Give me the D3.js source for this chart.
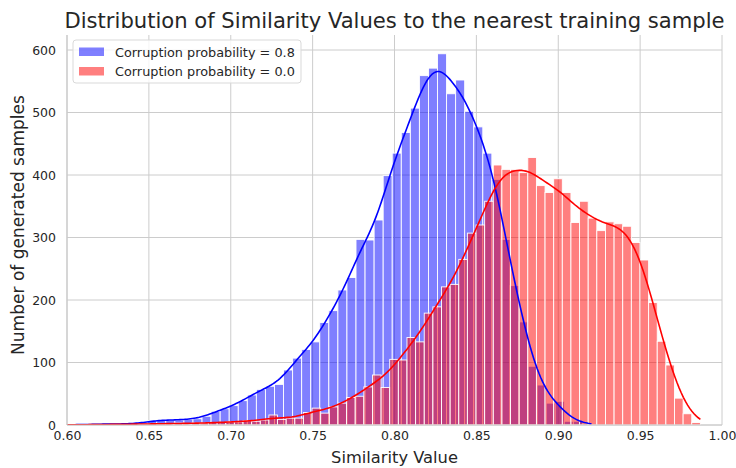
<!DOCTYPE html>
<html>
<head>
<meta charset="utf-8">
<script src="https://cdn.jsdelivr.net/npm/d3@7"></script>
<style>
  html, body { margin: 0; padding: 0; background: #ffffff; }
  svg { display: block; font-family: "DejaVu Sans", sans-serif; }
</style>
</head>
<body>
<svg id="chart" width="736" height="468"></svg>
<script>
// ---------------- data ----------------
const titleText = "Distribution of Similarity Values to the nearest training sample";
const xLabel = "Similarity Value";
const yLabel = "Number of generated samples";
const seriesNames = ["Corruption probability = 0.8", "Corruption probability = 0.0"];

// Corruption probability = 0.8 : histogram bins (left edge of first bin, bin width) and counts
const blueBinStart = 0.5995;
const blueBinWidth = 0.005531;
const blueCounts = [1,0,1,1,2,1,2,2,3,7,8,8,8,9,
  10,14,22,26,31,39,48,57,62,65,88,107,121,133,164,183,216,236,297,296,328,399,435,468,507,559,571,594,530,552,502,477,435,393,297,223,165,94,64,35,38,6,6,2];

// Corruption probability = 0.0
const redBinStart = 0.59682;
const redBinWidth = 0.00527;
const redCounts = [0,0,1,0,1,1,1,1,2,1,2,2,2,3,2,3,3,4,4,5,5,
  7,6,8,16,9,11,11,20,27,
  19,29,35,44,46,61,80,60,105,104,140,133,179,189,221,225,265,307,320,358,
  416,409,409,404,428,383,372,394,372,324,358,331,311,325,322,318,292,264,196,134,96,43,18,4];

const xTicks = [0.60,0.65,0.70,0.75,0.80,0.85,0.90,0.95,1.00];
const yTicks = [0,100,200,300,400,500,600];
const xDomain = [0.60, 1.00];
const yDomain = [0, 624];

// ---------------- layout ----------------
const svg = d3.select("#chart");
const M = {left: 67, right: 722, top: 35, bottom: 425};
const textColor = "#262626";
const gridColor = "#cccccc";
const blueCol = "#0000ff", redCol = "#ff0000";

const x = d3.scaleLinear().domain(xDomain).range([M.left, M.right]);
const y = d3.scaleLinear().domain(yDomain).range([M.bottom, M.top]);

function fitText(sel, targetWidth) {
  const node = sel.node();
  const fs = parseFloat(sel.style("font-size"));
  const w = node.getComputedTextLength();
  if (w > 0) sel.style("font-size", (fs * targetWidth / w).toFixed(2) + "px");
  return sel;
}

svg.append("defs").append("clipPath").attr("id","plotclip")
  .append("rect").attr("x", M.left).attr("y", M.top - 5)
  .attr("width", M.right - M.left).attr("height", M.bottom - M.top + 5);

// grid
const grid = svg.append("g");
grid.selectAll("line.gx").data(xTicks).enter().append("line")
  .attr("x1", d => x(d)).attr("x2", d => x(d))
  .attr("y1", M.top).attr("y2", M.bottom)
  .attr("stroke", gridColor).attr("stroke-width", 1);
grid.selectAll("line.gy").data(yTicks).enter().append("line")
  .attr("x1", M.left).attr("x2", M.right)
  .attr("y1", d => y(d)).attr("y2", d => y(d))
  .attr("stroke", gridColor).attr("stroke-width", 1);

// bins
function makeBins(start, width, counts) {
  return counts.map((c, i) => ({x0: start + i * width, x1: start + (i + 1) * width, c}));
}
const blueBins = makeBins(blueBinStart, blueBinWidth, blueCounts);
const redBins = makeBins(redBinStart, redBinWidth, redCounts);

// KDE (Gaussian, Scott bandwidth) computed from the binned counts, scaled to counts, cut at data range
function kdeFromBins(bins, width) {
  const n = d3.sum(bins, b => b.c);
  const mean = d3.sum(bins, b => b.c * (b.x0 + b.x1) / 2) / n;
  const variance = d3.sum(bins, b => b.c * Math.pow((b.x0 + b.x1) / 2 - mean, 2)) / n + width * width / 12;
  const bw = Math.sqrt(variance) * Math.pow(n, -0.2);
  const lo = bins[0].x0, hi = bins[bins.length - 1].x1;
  const pts = d3.range(0, 301).map(k => lo + (hi - lo) * k / 300);
  return pts.map(g => {
    let s = 0;
    for (const b of bins) {
      const z = (g - (b.x0 + b.x1) / 2) / bw;
      s += b.c * Math.exp(-0.5 * z * z);
    }
    return [g, s / (bw * Math.sqrt(2 * Math.PI)) * width];
  });
}

const plot = svg.append("g").attr("clip-path", "url(#plotclip)");
function drawBars(bins, color) {
  plot.append("g").selectAll("rect").data(bins).enter().append("rect")
    .attr("x", d => x(d.x0)).attr("width", d => Math.max(0, x(d.x1) - x(d.x0)))
    .attr("y", d => y(d.c)).attr("height", d => y(0) - y(d.c))
    .attr("fill", color).attr("fill-opacity", 0.5)
    .attr("stroke", "#ffffff").attr("stroke-width", 0.9);
}
drawBars(blueBins, blueCol);
drawBars(redBins, redCol);

const line = d3.line().x(d => x(d[0])).y(d => y(d[1])).curve(d3.curveLinear);
plot.append("path").datum(kdeFromBins(blueBins, blueBinWidth))
  .attr("d", line).attr("fill", "none").attr("stroke", blueCol).attr("stroke-width", 1.6);
plot.append("path").datum(kdeFromBins(redBins, redBinWidth))
  .attr("d", line).attr("fill", "none").attr("stroke", redCol).attr("stroke-width", 1.6);

// spines
svg.append("line").attr("x1", M.left).attr("x2", M.left).attr("y1", M.top).attr("y2", M.bottom)
  .attr("stroke", gridColor).attr("stroke-width", 1.2);
svg.append("line").attr("x1", M.left).attr("x2", M.right).attr("y1", M.bottom).attr("y2", M.bottom)
  .attr("stroke", gridColor).attr("stroke-width", 1.2);

// axes tick labels via d3 axes
const xAxis = d3.axisBottom(x).tickValues(xTicks).tickFormat(d3.format(".2f")).tickSize(0).tickPadding(6);
const gx = svg.append("g").attr("transform", `translate(0,${M.bottom})`).call(xAxis);
gx.select(".domain").remove();
gx.selectAll("text").attr("fill", textColor).style("font-size", "12.5px").style("font-family", "DejaVu Sans");

const yAxis = d3.axisLeft(y).tickValues(yTicks).tickFormat(d3.format("d")).tickSize(0).tickPadding(11);
const gy = svg.append("g").attr("transform", `translate(${M.left},0)`).call(yAxis);
gy.select(".domain").remove();
gy.selectAll("text").attr("fill", textColor).style("font-size", "12.5px").style("font-family", "DejaVu Sans");

// labels
fitText(svg.append("text").attr("x", (M.left + M.right) / 2).attr("y", 28)
  .attr("text-anchor", "middle").attr("fill", textColor)
  .style("font-size", "20px").text(titleText), 660);
fitText(svg.append("text").attr("x", (M.left + M.right) / 2).attr("y", 463)
  .attr("text-anchor", "middle").attr("fill", textColor)
  .style("font-size", "16px").text(xLabel), 127);
fitText(svg.append("text").attr("transform", `translate(24,225) rotate(-90)`)
  .attr("text-anchor", "middle").attr("fill", textColor)
  .style("font-size", "16px").text(yLabel), 260);

// legend
const lg = svg.append("g").attr("transform", "translate(73,40)");
lg.append("rect").attr("x", 0).attr("y", 0).attr("width", 228).attr("height", 43)
  .attr("rx", 3).attr("fill", "#ffffff").attr("fill-opacity", 0.8)
  .attr("stroke", "#d9d9d9").attr("stroke-width", 1);
const cols = [blueCol, redCol];
seriesNames.forEach((name, i) => {
  lg.append("rect").attr("x", 6).attr("y", 7.5 + i * 19.5).attr("width", 25).attr("height", 8.5)
    .attr("fill", cols[i]).attr("fill-opacity", 0.5);
  fitText(lg.append("text").attr("x", 42).attr("y", 16.5 + i * 19.5).attr("fill", textColor)
    .style("font-size", "12px").text(name), 180);
});
</script>
</body>
</html>
